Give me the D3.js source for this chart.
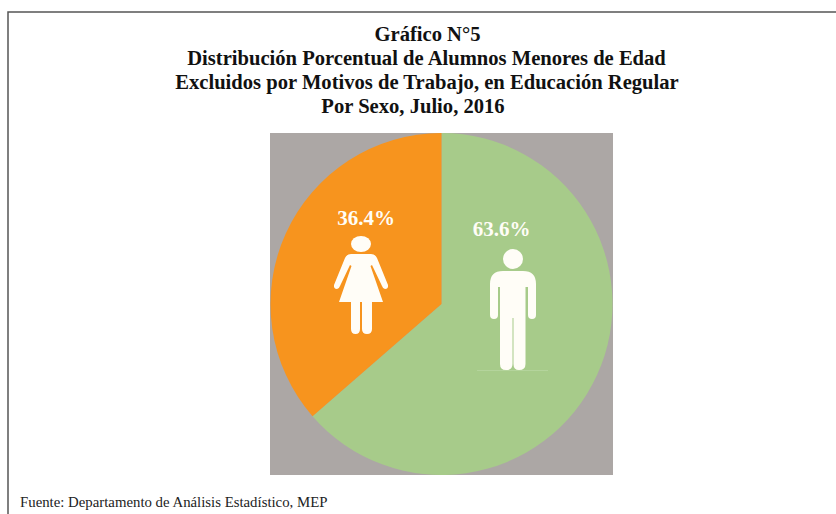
<!DOCTYPE html>
<html><head><meta charset="utf-8">
<script src="https://cdn.jsdelivr.net/npm/d3@7"></script>
<style>html,body{margin:0;padding:0;background:#fff}svg{display:block}</style>
</head><body><svg id="c" width="836" height="514"></svg>
<script>
const titleLines=["Gráfico N°5","Distribución Porcentual de Alumnos Menores de Edad","Excluidos por Motivos de Trabajo, en Educación Regular","Por Sexo, Julio, 2016"];
const categories=["Hombres","Mujeres"];
const values=[63.6,36.4];
const colors=["#a7cb8a","#f7941e"];
const source="Fuente: Departamento de Análisis Estadístico, MEP";
const serif="'Liberation Serif','Times New Roman',serif";
const svg=d3.select("#c");
svg.append("path").attr("d","M8 514V12H836").attr("fill","none").attr("stroke","#555").attr("stroke-width",1.5);
const titleY=[41,65,89,113];
const titleX=[427.5,426.5,427,413];
svg.selectAll("text.t").data(titleLines).join("text").attr("class","t")
  .attr("x",(d,i)=>titleX[i]).attr("y",(d,i)=>titleY[i]).attr("text-anchor","middle")
  .attr("font-family",serif).attr("font-weight","bold").attr("font-size",20.6).attr("fill","#111").text(d=>d);
svg.append("rect").attr("x",270).attr("y",133).attr("width",343).attr("height",342).attr("fill","#aca7a5");
const cx=441.5,cy=304,r=171;
const pie=d3.pie().sort(null)(values);
const arc=d3.arc().innerRadius(0).outerRadius(r);
const g=svg.append("g").attr("transform",`translate(${cx},${cy})`);
g.selectAll("path").data(pie).join("path").attr("d",arc).attr("fill",(d,i)=>colors[i]);
const lab=[[501.5,236],[366,225]];
svg.selectAll("text.v").data(values).join("text").attr("class","v")
  .attr("x",(d,i)=>lab[i][0]).attr("y",(d,i)=>lab[i][1]).attr("text-anchor","middle")
  .attr("font-family",serif).attr("font-weight","bold").attr("font-size",21).attr("fill","#fffdf7")
  .text(d=>d.toFixed(1)+"%");
const w="#fffdf7";
const m=svg.append("g").attr("fill",w);
m.append("circle").attr("cx",513).attr("cy",259).attr("r",10);
m.append("path").attr("d","M503 271H523Q536 271 536 284V315Q536 319 532 319Q528 319 528 315V287H525.5V364Q525.5 370 519 370Q513.5 370 513.5 364V318H512.5V364Q512.5 370 506 370Q500 370 500 364V287H498V315Q498 319 494 319Q490 319 490 315V284Q490 271 503 271Z");
svg.append("line").attr("x1",477).attr("x2",548).attr("y1",370.5).attr("y2",370.5).attr("stroke","#b4d49c").attr("stroke-width",1);
const f=svg.append("g").attr("fill",w);
f.append("ellipse").attr("cx",361).attr("cy",244).attr("rx",10).attr("ry",8);
f.append("path").attr("d","M351 254H371Q375 254 377 258L388 285Q388.5 289 385 289Q383 289 382 286L372 265L370.5 266L383 302H372V329Q372 334 367 334Q362 334 362 329V302H360V329Q360 334 355.5 334Q351 334 351 329V302H339L351.5 266L350 265L340 286Q339 289 337 289Q333.5 289 334 285L345 258Q347 254 351 254Z");
svg.append("text").attr("x",20).attr("y",507).attr("font-family",serif).attr("font-size",14.8).attr("fill","#222").text(source);
</script></body></html>
